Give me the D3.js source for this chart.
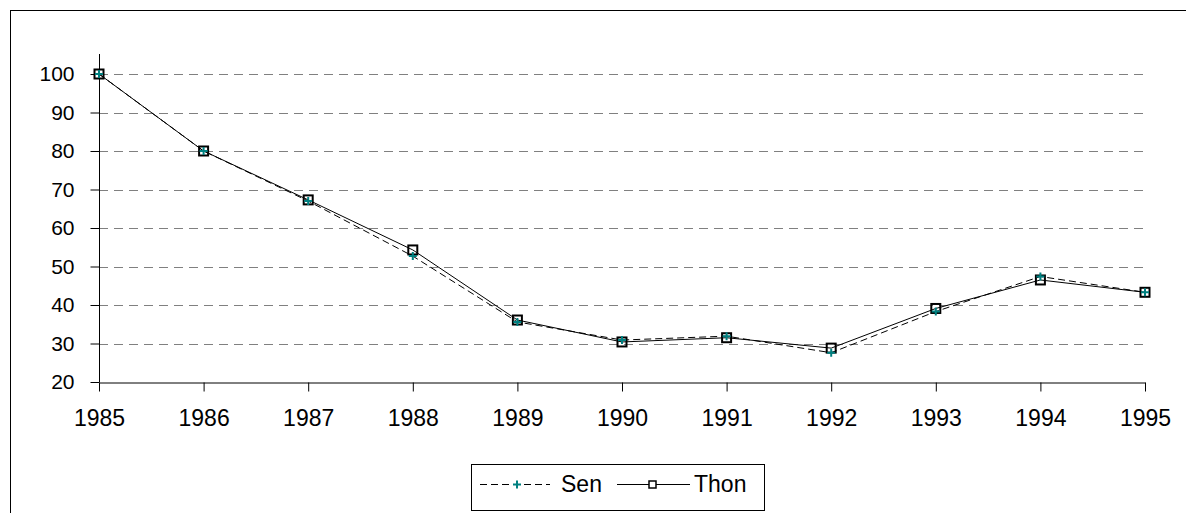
<!DOCTYPE html>
<html>
<head>
<meta charset="utf-8">
<script src="https://cdn.jsdelivr.net/npm/d3@7"></script>
<style>
  body { margin: 0; background: #fff; }
  svg { display: block; font-family: "Liberation Sans", Arial, sans-serif; }
</style>
</head>
<body>
<div class="chart"></div>
<script>
// data
var years = [1985, 1986, 1987, 1988, 1989, 1990, 1991, 1992, 1993, 1994, 1995];
var sen  = [100, 80, 67, 52.7, 35.6, 30.9, 31.9, 27.6, 38.3, 47.4, 43.3];
var thon = [100, 80, 67.3, 54.3, 36.1, 30.4, 31.5, 28.8, 39.1, 46.5, 43.3];
var yTicks = [20, 30, 40, 50, 60, 70, 80, 90, 100];
var seriesNames = ["Sen", "Thon"];

var W = 1186, H = 513;
var plotLeft = 99, plotRight = 1145, plotTop = 54, plotBottom = 382;

var svg = d3.select(".chart").append("svg")
    .attr("width", W)
    .attr("height", H);

// outer frame
svg.append("rect")
    .attr("x", 10.5).attr("y", 10.5)
    .attr("width", W).attr("height", H)
    .attr("fill", "none").attr("stroke", "#000");

var x = d3.scalePoint().domain(years).range([plotLeft, plotRight]);
var y = d3.scaleLinear().domain([20, 100]).range([plotBottom, 74]);

// gridlines
svg.append("g")
    .selectAll("line")
    .data(yTicks.slice(1))
    .enter().append("line")
    .attr("x1", plotLeft).attr("x2", plotRight)
    .attr("y1", function (d) { return Math.round(y(d)) + 0.5; })
    .attr("y2", function (d) { return Math.round(y(d)) + 0.5; })
    .attr("stroke", "#808080")
    .attr("stroke-dasharray", "9,6");

// y axis
var yAxis = svg.append("g")
    .attr("transform", "translate(" + (plotLeft + 0.5) + ",0)")
    .call(d3.axisLeft(y).tickValues(yTicks).tickSize(9).tickPadding(16).tickSizeOuter(0));
yAxis.select(".domain").remove();
yAxis.append("line")
    .attr("x1", 0).attr("x2", 0)
    .attr("y1", plotTop).attr("y2", plotBottom)
    .attr("stroke", "#000");
yAxis.selectAll(".tick text").attr("font-size", "21px");

// x axis
var xAxis = svg.append("g")
    .attr("transform", "translate(0," + (plotBottom + 0.5) + ")")
    .call(d3.axisBottom(x).tickSize(9).tickPadding(18).tickSizeOuter(0));
xAxis.selectAll(".tick text").attr("font-size", "23px");

svg.selectAll(".tick text")
    .attr("font-family", "Liberation Sans, Arial, sans-serif")
    .attr("fill", "#000");
svg.selectAll(".tick line").attr("stroke", "#000");

var line = d3.line()
    .x(function (d, i) { return x(years[i]); })
    .y(function (d) { return y(d); });

// Sen - dashed line
svg.append("path")
    .datum(sen)
    .attr("d", line)
    .attr("fill", "none")
    .attr("stroke", "#000")
    .attr("stroke-dasharray", "7,4");

// Thon - solid line
svg.append("path")
    .datum(thon)
    .attr("d", line)
    .attr("fill", "none")
    .attr("stroke", "#000");

// Thon markers: hollow squares
svg.append("g")
    .selectAll("rect")
    .data(thon)
    .enter().append("rect")
    .attr("x", function (d, i) { return x(years[i]) - 4.5; })
    .attr("y", function (d) { return y(d) - 4.5; })
    .attr("width", 9).attr("height", 9)
    .attr("fill", "none")
    .attr("stroke", "#000")
    .attr("stroke-width", 2);

// Sen markers: teal plus
var plus = "M-4,0H4M0,-4V4";
svg.append("g")
    .selectAll("path")
    .data(sen)
    .enter().append("path")
    .attr("transform", function (d, i) { return "translate(" + x(years[i]) + "," + y(d) + ")"; })
    .attr("d", plus)
    .attr("stroke", "#008080")
    .attr("stroke-width", 2);

// legend
var legend = svg.append("g");
legend.append("rect")
    .attr("x", 471.5).attr("y", 464.5)
    .attr("width", 293).attr("height", 46)
    .attr("fill", "#fff").attr("stroke", "#000");

var ly = 484.5;
legend.append("line")
    .attr("x1", 480).attr("x2", 550)
    .attr("y1", ly).attr("y2", ly)
    .attr("stroke", "#000")
    .attr("stroke-dasharray", "7,4");
legend.append("path")
    .attr("transform", "translate(517," + ly + ")")
    .attr("d", plus)
    .attr("stroke", "#008080")
    .attr("stroke-width", 2);
legend.append("text")
    .attr("x", 561).attr("y", 492)
    .attr("font-size", "23px")
    .text(seriesNames[0]);

legend.append("line")
    .attr("x1", 617).attr("x2", 690)
    .attr("y1", ly).attr("y2", ly)
    .attr("stroke", "#000");
legend.append("rect")
    .attr("x", 649).attr("y", ly - 3.5)
    .attr("width", 7).attr("height", 7)
    .attr("fill", "#fff")
    .attr("stroke", "#000")
    .attr("stroke-width", 1.5);
legend.append("text")
    .attr("x", 694).attr("y", 492)
    .attr("font-size", "23px")
    .text(seriesNames[1]);
</script>
</body>
</html>
